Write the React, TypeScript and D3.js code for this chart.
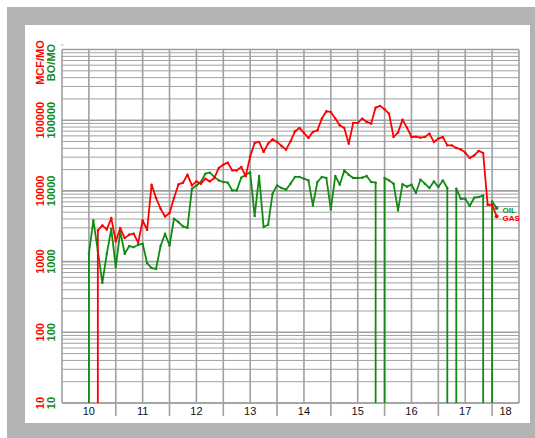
import * as d3 from 'd3';
import React from 'react';

// months counted from Jan 2010
const oilStartMonth = 6;
const gasStartMonth = 8;

// BO/MO, 0 = no production that month
const oilValues = [
  1290, 3820, 1420, 500, 1290, 2910, 836, 2670, 1290, 1660, 1600, 1730, 1790, 950,
  810, 790, 1660, 2480, 1690, 4040, 3630, 3140, 3010, 10740, 11960, 13370, 17520, 18100,
  15740, 14080, 13370, 13060, 10160, 10160, 15380, 16960, 18280, 4410, 16260, 3080, 3320, 9130,
  11960, 10990, 10400, 12650, 15740, 15740, 14890, 14080, 6230, 13370, 15740, 15230, 5470, 16260,
  12240, 19500, 16960, 15230, 15230, 15380, 16260, 13370, 13060, 0, 15230, 14080, 12650, 5300,
  12440, 11470, 12240, 9430, 14410, 12650, 10990, 13630, 11360, 14080, 10990, 0, 10740, 7750,
  7750, 6110, 8010, 8200, 8640, 0, 7100, 5730,
];

// MCF/MO
const gasValues = [
  2760, 3250, 2850, 4130, 1930, 2980, 2150, 2400, 2480, 1850, 3820, 2820, 12240, 7930,
  5600, 4350, 4860, 7930, 12360, 13060, 16960, 11960, 13630, 12650, 14890, 13630, 15230, 21100,
  23500, 25070, 19500, 19500, 21800, 16160, 30800, 47700, 49300, 35600, 46600, 53600, 49300, 43250,
  38350, 50260, 69660, 77800, 66100, 56160, 68300, 71900, 105400, 133700, 131100, 105400, 84700, 77800,
  46600, 91600, 91600, 105400, 94600, 89500, 150800, 159400, 142700, 124000, 58000, 66750, 102000, 78500,
  58000, 58600, 56700, 58000, 64600, 49300, 54900, 58000, 44100, 44100, 40500, 38700, 34770, 29200,
  31800, 36740, 34400, 6370, 6370, 4380,
];

const yearLabels = ['10', '11', '12', '13', '14', '15', '16', '17', '18'];
const yTickValues = [10, 100, 1000, 10000, 100000];

const OIL = '#138a13';
const GAS = '#ff0000';
const GRID = '#a0a0a0';

const x = d3.scaleLinear().domain([2010, 2018.5]).range([62, 519]);
const y = d3.scaleLog().domain([10, 1e6]).range([403, 49.5]).clamp(true);

type Pt = { t: number; v: number };

// split into runs of producing months; each run starts from and falls back to the bottom
function buildRuns(start: number, values: number[]): Pt[][] {
  const runs: Pt[][] = [];
  let cur: Pt[] | null = null;
  values.forEach((v, i) => {
    const t = 2010 + (start + i) / 12;
    if (v <= 0) {
      if (cur) {
        const last = cur[cur.length - 1];
        cur.push({ t: last.t, v: 0 });
        cur = null;
      }
      return;
    }
    if (!cur) {
      cur = [{ t, v: 0 }];
      runs.push(cur);
    }
    cur.push({ t, v });
  });
  return runs;
}

const line = d3
  .line<Pt>()
  .x(d => x(d.t))
  .y(d => y(d.v));

const Series = ({ start, values, color }: { start: number; values: number[]; color: string }) => {
  const runs = buildRuns(start, values);
  const marks = values
    .map((v, i) => ({ t: 2010 + (start + i) / 12, v }))
    .filter(d => d.v > 0);
  return (
    <g>
      {runs.map((r, i) => (
        <path key={i} d={line(r) || ''} fill="none" stroke={color} strokeWidth={1.8} strokeLinejoin="round" />
      ))}
      {marks.map((d, i) => (
        <circle key={i} cx={x(d.t)} cy={y(d.v)} r={i === marks.length - 1 ? 1.9 : 1.2} fill={color} />
      ))}
    </g>
  );
};

export default function App() {
  const [x0, x1] = x.domain();
  const [yBottom, yTop] = y.range();

  const hLines: number[] = [];
  for (let dec = 10; dec < 1e6; dec *= 10) {
    for (let m = 1; m < 10; m++) hLines.push(dec * m);
  }
  hLines.push(1e6);

  const vLines = d3.range(x0, x1 + 0.01, 0.5);
  const years = d3.range(2010, 2019);

  const font = 'Liberation Sans, Arial, Helvetica, sans-serif';

  return (
    <div style={{ position: 'fixed', left: 0, top: 0 }}>
      <svg width={535} height={438} style={{ display: 'block' }}>
        <rect x={0} y={0} width={535} height={438} fill="#ffffff" />
        <rect x={7} y={7} width={528} height={431} fill="#b3b3b3" />
        <rect x={25} y={25} width={505} height={398} fill="#ffffff" />

        {/* grid */}
        {hLines.map(v => {
          const major = Math.abs(Math.log10(v) - Math.round(Math.log10(v))) < 1e-9;
          return (
            <line
              key={'h' + v}
              x1={x(x0)}
              x2={x(x1)}
              y1={y(v)}
              y2={y(v)}
              stroke={GRID}
              strokeWidth={major ? 1.6 : 1}
            />
          );
        })}
        {vLines.map(t => (
          <line
            key={'v' + t}
            x1={x(t)}
            x2={x(t)}
            y1={yTop}
            y2={Number.isInteger(t) && t > x0 ? 416 : yBottom}
            stroke={GRID}
            strokeWidth={1.6}
          />
        ))}
        <line x1={x(x0)} x2={x(x1)} y1={yBottom} y2={yBottom} stroke={GRID} strokeWidth={1.6} />

        {/* x labels */}
        {years.map((yr, i) => {
          const a = Math.max(yr, x0);
          const b = Math.min(yr + 1, x1);
          return (
            <text key={yr} x={x((a + b) / 2)} y={415} textAnchor="middle" fontSize={11} fontFamily={font} fill="#111">
              {yearLabels[i]}
            </text>
          );
        })}

        {/* y labels */}
        {yTickValues.map(v => (
          <g key={'yl' + v}>
            <text
              transform={`translate(43.5,${y(v)}) rotate(-90)`}
              textAnchor="middle"
              fontSize={11}
              fontWeight="bold"
              fontFamily={font}
              fill={GAS}
            >
              {String(v)}
            </text>
            <text
              transform={`translate(55,${y(v)}) rotate(-90)`}
              textAnchor="middle"
              fontSize={11}
              fontWeight="bold"
              fontFamily={font}
              fill={OIL}
            >
              {String(v)}
            </text>
          </g>
        ))}
        <text transform="translate(43.5,62.5) rotate(-90)" textAnchor="middle" fontSize={11} fontWeight="bold" fontFamily={font} fill={GAS}>
          MCF/MO
        </text>
        <text transform="translate(55,62.5) rotate(-90)" textAnchor="middle" fontSize={11} fontWeight="bold" fontFamily={font} fill={OIL}>
          BO/MO
        </text>
        <text x={61} y={46} fontSize={4} fontFamily={font} fill="#5bb35b">a</text>

        {/* series */}
        <Series start={oilStartMonth} values={oilValues} color={OIL} />
        <Series start={gasStartMonth} values={gasValues} color={GAS} />

        {/* legend */}
        <text x={502.5} y={213} fontSize={8} fontWeight="bold" fontFamily={font} fill={OIL}>OIL</text>
        <text x={502.5} y={220.5} fontSize={8} fontWeight="bold" fontFamily={font} fill={GAS}>GAS</text>
      </svg>
    </div>
  );
}
